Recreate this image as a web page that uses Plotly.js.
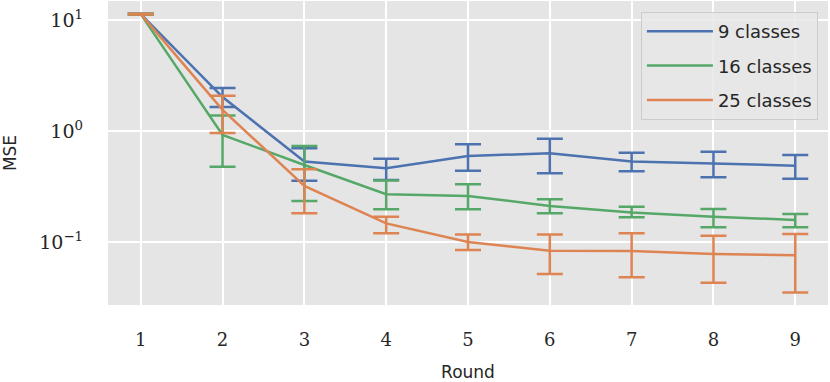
<!DOCTYPE html>
<html>
<head>
<meta charset="utf-8">
<script src="https://cdn.plot.ly/plotly-3.0.1.min.js"></script>
<style>
  html, body { margin: 0; padding: 0; background: #ffffff; }
  #chart { width: 830px; height: 382px; }
</style>
</head>
<body>
<div id="chart"></div>
<script>
// Rounds on the x axis
const rounds = [1, 2, 3, 4, 5, 6, 7, 8, 9];

// Mean MSE per round, and the upper / lower ends of the error bars
const mse9 = [11.3, 2.02, 0.53, 0.461, 0.595, 0.63, 0.53, 0.512, 0.487];
const hi9  = [11.4, 2.44, 0.70, 0.563, 0.759, 0.853, 0.638, 0.651, 0.608];
const lo9  = [11.2, 1.64, 0.356, 0.362, 0.439, 0.416, 0.434, 0.383, 0.372];

const mse16 = [11.3, 0.92, 0.494, 0.269, 0.26, 0.211, 0.184, 0.169, 0.158];
const hi16  = [11.4, 1.38, 0.733, 0.357, 0.331, 0.242, 0.208, 0.198, 0.179];
const lo16  = [11.2, 0.477, 0.234, 0.197, 0.197, 0.181, 0.167, 0.136, 0.136];

const mse25 = [11.3, 1.55, 0.32, 0.147, 0.1, 0.0835, 0.083, 0.078, 0.076];
const hi25  = [11.4, 2.08, 0.452, 0.169, 0.117, 0.117, 0.12, 0.114, 0.118];
const lo25  = [11.2, 0.96, 0.181, 0.12, 0.0848, 0.0515, 0.048, 0.043, 0.035];

const names = ['9 classes', '16 classes', '25 classes'];
const colors = ['#4c72b0', '#55a868', '#dd8452'];

function makeTrace(y, hi, lo, name, color) {
  return {
    x: rounds,
    y: y,
    mode: 'lines',
    name: name,
    legendgroup: name,
    line: { color: color, width: 2.5 },
    error_y: {
      type: 'data',
      symmetric: false,
      array: hi.map((v, i) => v - y[i]),
      arrayminus: lo.map((v, i) => y[i] - v),
      color: color,
      thickness: 2.5,
      width: 13
    }
  };
}

const data = [
  makeTrace(mse9, hi9, lo9, names[0], colors[0]),
  makeTrace(mse16, hi16, lo16, names[1], colors[1]),
  makeTrace(mse25, hi25, lo25, names[2], colors[2])
];

const layout = {
  width: 830,
  height: 382,
  margin: { l: 108, r: 2, t: 1, b: 77 },
  paper_bgcolor: '#ffffff',
  plot_bgcolor: '#e5e5e5',
  showlegend: true,
  legend: {
    x: 0.986, xanchor: 'right',
    y: 0.964, yanchor: 'top',
    traceorder: 'grouped',
    tracegroupgap: 8,
    itemwidth: 66,
    bgcolor: 'rgba(232,232,232,0.85)',
    bordercolor: '#cccccc',
    borderwidth: 1,
    font: { family: 'DejaVu Sans', size: 18, color: '#262626' }
  },
  xaxis: {
    range: [0.6, 9.4],
    tickvals: rounds,
    ticktext: rounds.map(String),
    tickfont: { family: 'DejaVu Serif', size: 18, color: '#262626' },
    showgrid: true,
    gridcolor: '#ffffff',
    gridwidth: 1.5,
    zeroline: false,
    showline: false,
    ticks: '',
    ticklabelstandoff: 22,
    title: { text: 'Round', font: { family: 'DejaVu Sans', size: 17, color: '#262626' }, standoff: 18 }
  },
  yaxis: {
    type: 'log',
    range: [-1.568, 1.171],
    tickvals: [0.1, 1, 10],
    ticktext: ['10<sup>\u22121</sup>', '10<sup>0</sup>', '10<sup>1</sup>'],
    tickfont: { family: 'DejaVu Serif', size: 19, color: '#262626' },
    showgrid: true,
    gridcolor: '#ffffff',
    gridwidth: 1.5,
    zeroline: false,
    showline: false,
    ticks: '',
    ticklabelstandoff: 24,
    title: { text: 'MSE', font: { family: 'DejaVu Sans', size: 17, color: '#262626' }, standoff: 22 }
  }
};

Plotly.newPlot('chart', data, layout, { displayModeBar: false });
</script>
</body>
</html>
